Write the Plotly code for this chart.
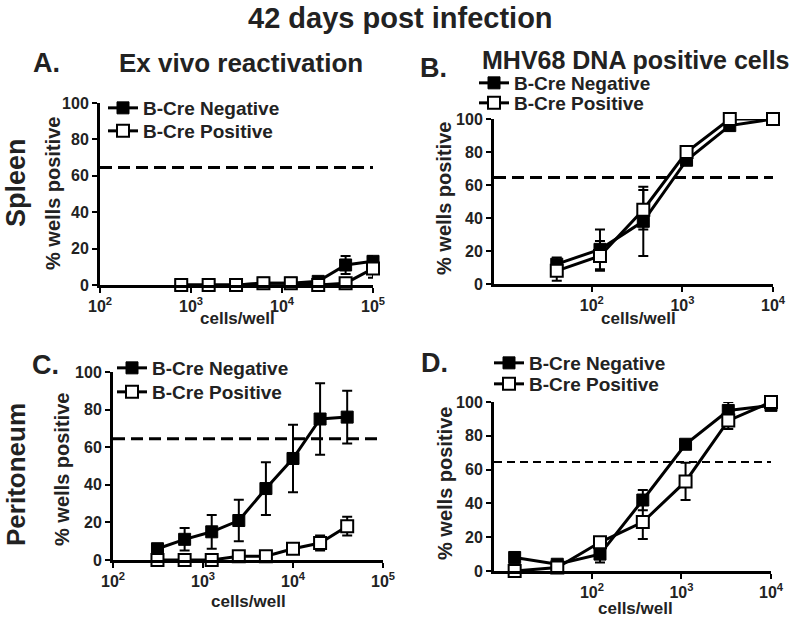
import plotly.graph_objects as go

# ---------------- data ----------------
# Panel A: Spleen, ex vivo reactivation
a_cells = [781, 1563, 3125, 6250, 12500, 25000, 50000, 100000]
a_neg = [0, 0, 0, 1, 1, 2, 11, 13]
a_neg_err = [0, 0, 0, 0, 0, 0, 5, 3]
a_pos = [0, 0, 0, 1, 1, 0, 1, 9]
a_pos_err = [0, 0, 0, 0, 0, 0, 0, 5]

# Panel B: Spleen, MHV68 DNA positive cells
b_cells = [41, 123, 370, 1111, 3333, 10000]
b_neg = [12, 21, 38, 75, 96, 100]
b_neg_err = [4, 12, 21, 2, 3, 0]
b_pos = [8, 17, 45, 80, 100, 100]
b_pos_err = [6, 9, 12, 2, 0, 0]

# Panel C: Peritoneum, ex vivo reactivation
c_cells = [312, 625, 1250, 2500, 5000, 10000, 20000, 40000]
c_neg = [6, 11, 15, 21, 38, 54, 75, 76]
c_neg_err = [0, 6, 9, 11, 14, 18, 19, 14]
c_pos = [0, 0, 0, 2, 2, 6, 9, 18]
c_pos_err = [0, 0, 2, 0, 0, 0, 4, 5]

# Panel D: Peritoneum, MHV68 DNA positive cells
d_cells = [13.7, 41, 123, 370, 1111, 3333, 10000]
d_neg = [8, 4, 10, 42, 75, 95, 98]
d_neg_err = [0, 0, 5, 6, 0, 5, 0]
d_pos = [0, 2, 17, 29, 53, 89, 100]
d_pos_err = [0, 0, 0, 10, 11, 5, 0]

threshold = 64.5
y_ticks = [0, 20, 40, 60, 80, 100]
x_tickvals = [100, 1000, 10000, 100000]
x_ticktext = ["10<sup>2</sup>", "10<sup>3</sup>", "10<sup>4</sup>", "10<sup>5</sup>"]
series_names = ["B-Cre Negative", "B-Cre Positive"]

FONT = "Liberation Sans, Arial, sans-serif"
W, H = 800, 621

def px_x(p):
    return p / W

def px_y(p):
    return 1 - p / H

fig = go.Figure()

# legend placement per panel: (text-left px, row1 centre px, row2 centre px)
legend_pos = [(144, 108, 131), (515, 83, 103), (153, 368, 392), (530, 363, 384)]
LEG_DX = 41
LEG_DY = 19

panels = [
    (a_cells, a_neg, a_neg_err, a_pos, a_pos_err, ""),
    (b_cells, b_neg, b_neg_err, b_pos, b_pos_err, "2"),
    (c_cells, c_neg, c_neg_err, c_pos, c_pos_err, "3"),
    (d_cells, d_neg, d_neg_err, d_pos, d_pos_err, "4"),
]

leg_font = dict(family=FONT, size=19, color="#222", weight="bold")
legends = {}
for i, (cells, neg, nerr, pos, perr, sfx) in enumerate(panels):
    l1 = "legend" if i == 0 else f"legend{2 * i + 1}"
    l2 = f"legend{2 * i + 2}"
    tx, r1, r2 = legend_pos[i]
    for lid, r in ((l1, r1), (l2, r2)):
        legends[lid] = dict(x=px_x(tx - LEG_DX), y=px_y(r - LEG_DY), xanchor="left", yanchor="top",
                            font=leg_font, bgcolor="rgba(0,0,0,0)", itemwidth=30)
    fig.add_trace(go.Scatter(
        x=cells, y=neg, mode="lines+markers", name=series_names[0],
        xaxis="x" + sfx, yaxis="y" + sfx, legend=l1,
        line=dict(color="black", width=3),
        marker=dict(symbol="square", size=12, color="black", line=dict(color="black", width=1)),
        error_y=dict(type="data", array=nerr, visible=True, color="black", thickness=2, width=5),
        cliponaxis=False,
    ))
    fig.add_trace(go.Scatter(
        x=cells, y=pos, mode="lines+markers", name=series_names[1],
        xaxis="x" + sfx, yaxis="y" + sfx, legend=l2,
        line=dict(color="black", width=3),
        marker=dict(symbol="square", size=12, color="white", line=dict(color="black", width=2)),
        error_y=dict(type="data", array=perr, visible=True, color="black", thickness=2, width=5),
        cliponaxis=False,
    ))

# axes domains (pixel based)
doms = {
    "": ((100, 373), (285, 103), (2, 5)),
    "2": ((494, 773), (284, 119), (0.92, 4)),
    "3": ((113, 383), (560, 372), (2, 5)),
    "4": ((494, 771), (571, 402), (0.906, 4)),
}

axis_common = dict(showline=True, linewidth=3, linecolor="black", ticks="outside",
                   ticklen=5, tickwidth=2, tickcolor="black", showgrid=False, zeroline=False,
                   automargin=False,
                   tickfont=dict(family=FONT, size=16, color="#222", weight="bold"))

layout = {}
for sfx, ((x0, x1), (y0, y1), xr) in doms.items():
    layout["xaxis" + sfx] = dict(
        domain=[px_x(x0), px_x(x1)], anchor="y" + sfx, type="log", range=list(xr),
        tickvals=x_tickvals, ticktext=x_ticktext, **axis_common)
    layout["yaxis" + sfx] = dict(
        domain=[px_y(y0), px_y(y1)], anchor="x" + sfx, range=[0, 100],
        tickvals=y_ticks, **axis_common)
layout.update(legends)

shapes = []
for sfx in ["", "2", "3", "4"]:
    shapes.append(dict(type="line", xref=("x" + sfx if sfx else "x") + " domain", yref="y" + sfx,
                       x0=0, x1=1, y0=threshold, y1=threshold,
                       line=dict(color="black", width=3 if sfx != "4" else 2,
                                 dash="12px,6px" if sfx != "4" else "8px,5px")))

def ann(text, x, y, size, angle=0):
    return dict(text=text, x=px_x(x), y=px_y(y), xref="paper", yref="paper",
                showarrow=False, xanchor="center", yanchor="middle", textangle=angle,
                font=dict(family=FONT, size=size, color="#222", weight="bold"))

x_title = "cells/well"
y_title = "% wells positive"
annotations = [
    ann("42 days post infection", 400, 18, 29),
    ann("A.", 46, 63, 27),
    ann("Ex vivo reactivation", 241, 63, 26),
    ann("B.", 433, 68, 27),
    ann("MHV68 DNA positive cells", 636, 60, 25),
    ann("C.", 45, 365, 27),
    ann("D.", 435, 363, 27),
    ann("Spleen", 16, 183, 27, -90),
    ann("Peritoneum", 16, 475, 26, -90),
    ann(x_title, 237, 318, 17),
    ann(x_title, 638, 319, 17),
    ann(x_title, 248, 601, 17),
    ann(x_title, 635, 608, 17),
    ann(y_title, 53, 194, 20, -90),
    ann(y_title, 444, 199, 20, -90),
    ann(y_title, 62, 470, 20, -90),
    ann(y_title, 445, 484, 20, -90),
]

fig.update_layout(
    width=W, height=H, margin=dict(l=0, r=0, t=0, b=0, autoexpand=False),
    plot_bgcolor="white", paper_bgcolor="white", showlegend=True,
    shapes=shapes, annotations=annotations, **layout,
)

fig.write_html("out.html", config={"displayModeBar": False},
               post_script="document.body.style.margin='0';document.body.style.overflow='hidden';")
